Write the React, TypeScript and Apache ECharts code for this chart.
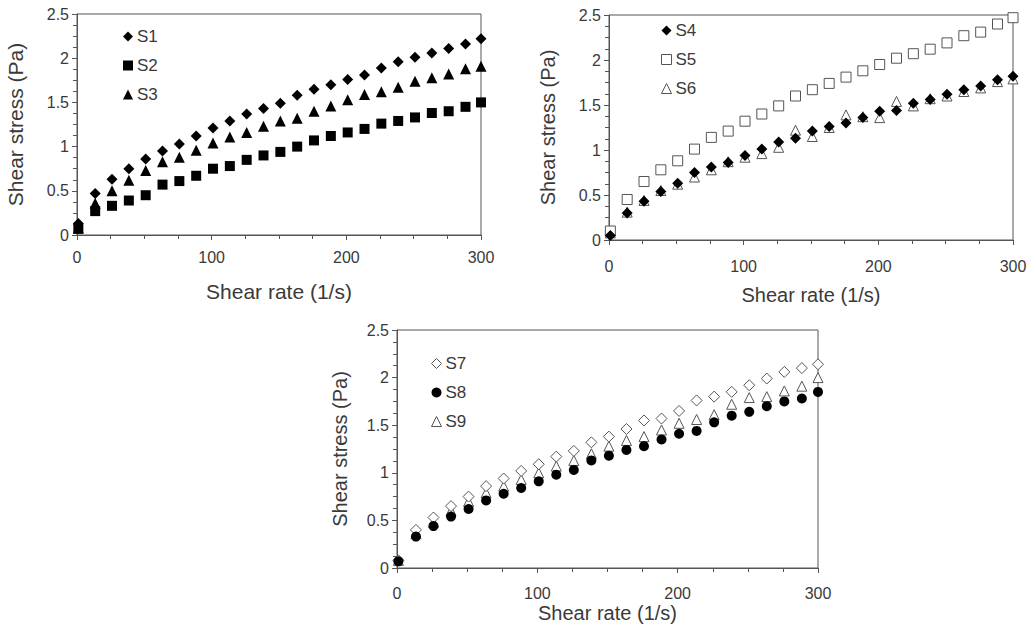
import React, { useEffect, useRef } from "react";
import * as echarts from "echarts";

const shearRate = [1, 13.5, 26, 38.5, 51, 63.5, 76, 88.5, 101, 113.5, 126, 138.5, 151, 163.5, 176, 188.5, 201, 213.5, 226, 238.5, 251, 263.5, 276, 288.5, 300];

const s1 = [0.13, 0.47, 0.63, 0.75, 0.86, 0.95, 1.03, 1.12, 1.21, 1.29, 1.37, 1.43, 1.49, 1.58, 1.65, 1.70, 1.76, 1.81, 1.89, 1.96, 2.01, 2.06, 2.11, 2.16, 2.22];
const s2 = [0.07, 0.27, 0.33, 0.39, 0.45, 0.57, 0.61, 0.67, 0.75, 0.78, 0.85, 0.90, 0.94, 1.00, 1.07, 1.12, 1.16, 1.20, 1.26, 1.29, 1.33, 1.38, 1.40, 1.45, 1.50];
const s3 = [0.08, 0.36, 0.50, 0.62, 0.73, 0.83, 0.88, 0.96, 1.04, 1.11, 1.16, 1.23, 1.29, 1.32, 1.40, 1.46, 1.53, 1.59, 1.62, 1.67, 1.74, 1.78, 1.82, 1.88, 1.91];

const s4 = [0.05, 0.30, 0.43, 0.54, 0.63, 0.75, 0.81, 0.86, 0.94, 1.01, 1.09, 1.13, 1.21, 1.26, 1.30, 1.36, 1.43, 1.44, 1.52, 1.56, 1.62, 1.67, 1.71, 1.78, 1.82];
const s5 = [0.10, 0.45, 0.65, 0.78, 0.88, 1.01, 1.14, 1.21, 1.32, 1.40, 1.49, 1.60, 1.67, 1.74, 1.81, 1.88, 1.95, 2.02, 2.07, 2.12, 2.19, 2.27, 2.31, 2.40, 2.47];
const s6 = [0.08, 0.31, 0.44, 0.55, 0.62, 0.70, 0.78, 0.87, 0.92, 0.96, 1.03, 1.22, 1.15, 1.25, 1.39, 1.37, 1.36, 1.54, 1.49, 1.57, 1.60, 1.65, 1.69, 1.76, 1.79];

const s7 = [0.08, 0.40, 0.53, 0.65, 0.75, 0.86, 0.94, 1.02, 1.09, 1.17, 1.23, 1.32, 1.38, 1.46, 1.55, 1.57, 1.65, 1.76, 1.80, 1.85, 1.92, 1.99, 2.06, 2.10, 2.14];
const s8 = [0.07, 0.33, 0.44, 0.54, 0.62, 0.71, 0.78, 0.84, 0.91, 0.98, 1.03, 1.13, 1.18, 1.24, 1.28, 1.35, 1.41, 1.44, 1.53, 1.60, 1.64, 1.70, 1.75, 1.78, 1.85];
const s9 = [0.08, 0.36, 0.48, 0.60, 0.70, 0.79, 0.86, 0.93, 1.00, 1.07, 1.13, 1.20, 1.28, 1.34, 1.38, 1.45, 1.52, 1.56, 1.61, 1.72, 1.79, 1.80, 1.86, 1.91, 2.00];

const xTitle = "Shear rate (1/s)";
const yTitle = "Shear stress (Pa)";

const FONT = "'Liberation Sans', Arial, sans-serif";
const AXIS_COLOR = "#555";
const TEXT_COLOR = "#3a3a3a";

function pts(vals: number[]) {
  return vals.map((v, i) => [shearRate[i], v]);
}

export default function App() {
  const ref = useRef<HTMLDivElement>(null);
  useEffect(() => {
    if (!ref.current) return;
    const chart = echarts.init(ref.current, undefined, { renderer: "svg" });

    const grids = [
      { left: 77, top: 14, width: 404, height: 221, xMargin: 14, xGap: 46, yGap: 51, nameSize: 21 },
      { left: 609, top: 15, width: 404, height: 225, xMargin: 18, xGap: 45, yGap: 51, nameSize: 20 },
      { left: 397, top: 330, width: 421, height: 238, xMargin: 17, xGap: 35, yGap: 47, nameSize: 20 },
    ];

    const xAxes = grids.map((g, i) => ({
      gridIndex: i,
      type: "value",
      min: 0,
      max: 300,
      interval: 100,
      axisLine: { show: true, lineStyle: { color: AXIS_COLOR, width: 1 } },
      axisTick: { show: true, length: 5, lineStyle: { color: AXIS_COLOR } },
      minorTick: { show: true, splitNumber: 4, length: 4, lineStyle: { color: AXIS_COLOR } },
      splitLine: { show: false },
      axisLabel: { fontSize: 16, color: TEXT_COLOR, margin: g.xMargin, fontFamily: FONT },
      name: xTitle,
      nameLocation: "middle",
      nameGap: g.xGap,
      nameTextStyle: { fontSize: g.nameSize, color: TEXT_COLOR, fontFamily: FONT },
    }));

    const yAxes = grids.map((g, i) => ({
      gridIndex: i,
      type: "value",
      min: 0,
      max: 2.5,
      interval: 0.5,
      axisLine: { show: true, lineStyle: { color: AXIS_COLOR, width: 1 } },
      axisTick: { show: true, length: 5, lineStyle: { color: AXIS_COLOR } },
      minorTick: { show: true, splitNumber: 4, length: 4, lineStyle: { color: AXIS_COLOR } },
      splitLine: { show: false },
      axisLabel: { fontSize: 16, color: TEXT_COLOR, margin: 8, fontFamily: FONT },
      name: yTitle,
      nameLocation: "middle",
      nameGap: g.yGap,
      nameTextStyle: { fontSize: g.nameSize, color: TEXT_COLOR, fontFamily: FONT },
    }));

    const filled = { color: "#000", opacity: 1 };
    const hollow = { color: "#fff", borderColor: "#555", borderWidth: 1, opacity: 1 };

    const mk = (name: string, idx: number, vals: number[], symbol: string, size: number, style: any, z: number) => ({
      name,
      type: "scatter",
      xAxisIndex: idx,
      yAxisIndex: idx,
      data: pts(vals),
      symbol,
      symbolSize: size,
      itemStyle: style,
      z,
      emphasis: { disabled: true },
    });

    const series = [
      mk("S3", 0, s3, "triangle", 11, filled, 2),
      mk("S2", 0, s2, "rect", 10, filled, 2),
      mk("S1", 0, s1, "diamond", 11, filled, 3),
      mk("S6", 1, s6, "triangle", 10, hollow, 2),
      mk("S5", 1, s5, "rect", 10, hollow, 2),
      mk("S4", 1, s4, "diamond", 11, filled, 3),
      mk("S9", 2, s9, "triangle", 10, hollow, 2),
      mk("S7", 2, s7, "diamond", 11, hollow, 2),
      mk("S8", 2, s8, "circle", 10, filled, 3),
    ];

    const legendBase = {
      orient: "vertical",
      itemWidth: 10,
      itemHeight: 10,
      itemGap: 12,
      selectedMode: false,
      itemStyle: { borderWidth: 1 },
      textStyle: { fontSize: 17, color: TEXT_COLOR, fontFamily: FONT, padding: [0, 0, 0, -1] },
    };

    chart.setOption({
      animation: false,
      backgroundColor: "#fff",
      textStyle: { fontFamily: FONT },
      grid: grids.map((g) => ({
        left: g.left,
        top: g.top,
        width: g.width,
        height: g.height,
        show: true,
        borderColor: AXIS_COLOR,
        borderWidth: 1,
        backgroundColor: "transparent",
        containLabel: false,
      })),
      xAxis: xAxes,
      yAxis: yAxes,
      legend: [
        { ...legendBase, data: ["S1", "S2", "S3"], left: 118, top: 23 },
        { ...legendBase, data: ["S4", "S5", "S6"], left: 656, top: 17 },
        { ...legendBase, data: ["S7", "S8", "S9"], left: 426, top: 350 },
      ],
      series,
    });

    return () => chart.dispose();
  }, []);

  return (
    <div
      ref={ref}
      style={{ position: "absolute", left: 0, top: 0, width: 1032, height: 627, background: "#fff" }}
    />
  );
}
